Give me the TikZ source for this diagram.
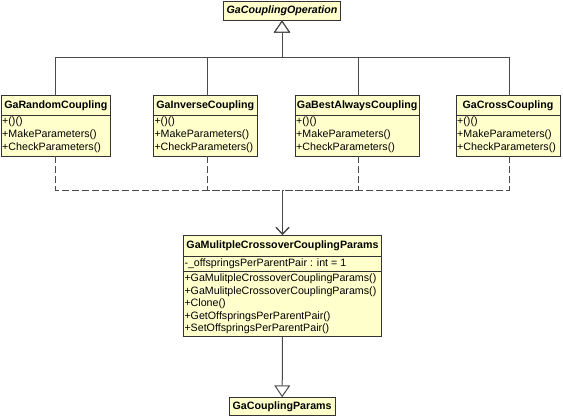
\documentclass[tikz,border=0pt]{standalone}
\usepackage{fontspec}
\setmainfont{Liberation Sans}
\usetikzlibrary{arrows.meta,calc}
\definecolor{clsfill}{HTML}{FFFFCC}
\definecolor{clsline}{HTML}{333333}
\definecolor{conn}{HTML}{4A4A4A}
\tikzset{
  cls/.style={draw=clsline, fill=clsfill, line width=1pt, inner sep=0pt, outer sep=0pt, rectangle},
  ttl/.style={font=\fontsize{10.67}{12}\selectfont\bfseries, inner sep=0pt, text height=8pt, text depth=2.4pt},
  mem/.style={font=\fontsize{10.67}{12}\selectfont, inner sep=0pt, anchor=west, text height=8pt, text depth=2.4pt},
  sepline/.style={draw=clsline, line width=1pt},
  inh/.style={draw=conn, line width=1pt, -{Triangle[open, length=12pt, width=16pt, fill=white]}},
  dep/.style={draw=conn, line width=1pt, dash pattern=on 7pt off 3pt, -{Straight Barb[length=7pt, width=13pt]}},
  depleg/.style={draw=conn, line width=1pt, dash pattern=on 7pt off 3pt},
}
\newcommand\clsbox[5]{\node[cls, minimum width=#4-#2, minimum height=#5-#3, anchor=north west] (#1) at (#2,#3) {};}
\begin{document}
\begin{tikzpicture}[x=1pt, y=-1pt]
\useasboundingbox (0,0) rectangle (563,418);

% class boxes
\clsbox{op}{223.5}{1}{340.5}{20.5}
\clsbox{b1}{1}{95.7}{110.7}{156}
\clsbox{b2}{153.3}{95.7}{257.3}{156}
\clsbox{b3}{295}{95.7}{419.3}{156}
\clsbox{b4}{456}{95.7}{560}{156}
\clsbox{mid}{183.3}{235}{381.7}{336.5}
\clsbox{base}{229.3}{397.3}{335}{415.5}

% separators
\foreach \b in {b1,b2,b3,b4}{
  \draw[sepline] ($(\b.north west)+(0,19.6)$) -- ($(\b.north east)+(0,19.6)$);
}
\draw[sepline] ($(mid.north west)+(0,21)$) -- ($(mid.north east)+(0,21)$);
\draw[sepline] ($(mid.north west)+(0,36.7)$) -- ($(mid.north east)+(0,36.7)$);

% titles
\node[ttl, font=\fontsize{10.67}{12}\selectfont\bfseries\itshape] (opt) at (282,10.9) {GaCouplingOperation};
\node[ttl] (b1t) at (55.85,105.6) {GaRandomCoupling};
\node[ttl] (b2t) at (205.3,105.6) {GaInverseCoupling};
\node[ttl] (b3t) at (357.15,105.6) {GaBestAlwaysCoupling};
\node[ttl] (b4t) at (508,105.6) {GaCrossCoupling};
\node[ttl] (midt) at (282.5,245.8) {GaMulitpleCrossoverCouplingParams};
\node[ttl] (baset) at (282.15,406.6) {GaCouplingParams};

% members of the four couplings
\foreach \b/\x in {b1/2, b2/154.3, b3/296, b4/457}{
  \node[mem] (\b m1) at (\x,121.8) {+()()};
  \node[mem] (\b m2) at (\x,134.6) {+MakeParameters()};
  \node[mem] (\b m3) at (\x,147.4) {+CheckParameters()};
}

% members of the params class
\node[mem] (mida) at (184.3,263.4) {-\_offspringsPerParentPair : int = 1};
\node[mem] (midm1) at (184.3,278.6) {+GaMulitpleCrossoverCouplingParams()};
\node[mem] (midm2) at (184.3,291.2) {+GaMulitpleCrossoverCouplingParams()};
\node[mem] (midm3) at (184.3,303.8) {+Clone()};
\node[mem] (midm4) at (184.3,316.4) {+GetOffspringsPerParentPair()};
\node[mem] (midm5) at (184.3,329) {+SetOffspringsPerParentPair()};

% junction points
\coordinate (ij) at (282,57.5);
\coordinate (dj) at (282.5,190);

% inheritance to GaCouplingOperation
\draw[inh] (b1.north) |- (ij) -- (op.south);
\draw[inh] ([xshift=2pt]b2.north) |- (ij) -- (op.south);
\draw[inh] ([xshift=1.15pt]b3.north) |- (ij) -- (op.south);
\draw[inh] ([xshift=1.3pt]b4.north) |- (ij) -- (op.south);

% dependencies to the params class (overlapping dashes on the shared leg)
\draw[depleg] (b1.south) |- (dj);
\draw[depleg] ([xshift=2pt]b2.south) |- (dj);
\draw[depleg] ([xshift=1.15pt]b3.south) |- (dj);
\draw[depleg] ([xshift=1.3pt]b4.south) |- (dj);
\draw[dep, dash phase=0pt] (dj) -- (mid.north);
\draw[dep, dash phase=3pt] (dj) -- (mid.north);
\draw[dep, dash phase=6pt] (dj) -- (mid.north);

% params inheritance
\draw[inh] (mid.south) -- (base.north);
\end{tikzpicture}
\end{document}
